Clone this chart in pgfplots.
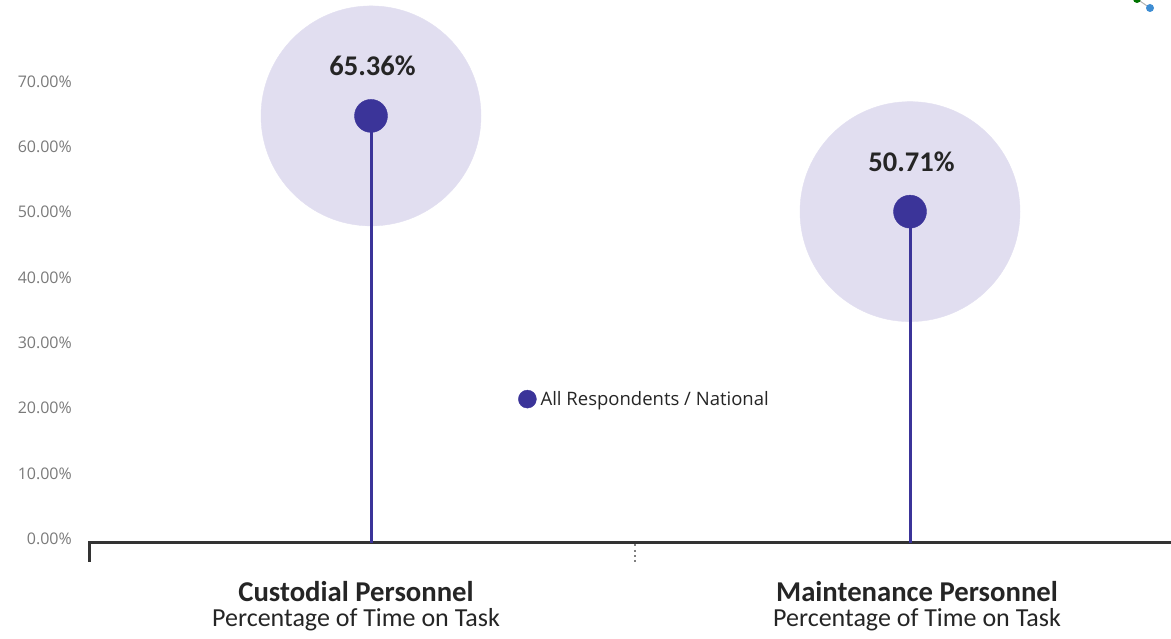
\documentclass[border=0pt]{standalone}
\usepackage{pgfplots}
\pgfplotsset{compat=1.18}
\usepackage{fontspec}
\setmainfont{Carlito}
\newfontfamily\uifont{Open Sans}

\definecolor{dotblue}{HTML}{3B3499}
\definecolor{halo}{HTML}{E1DEF0}
\definecolor{axisgray}{HTML}{333333}
\definecolor{ticktext}{HTML}{7A7A7A}
\definecolor{labeltext}{HTML}{252525}

\begin{document}
\begin{tikzpicture}[x=1bp,y=1bp]
\path[use as bounding box] (0,0) rectangle (1171,639);
\begin{axis}[
  at={(89bp,96bp)}, anchor=south west,
  scale only axis, width=1082bp, height=543bp,
  xmin=-0.5232, xmax=1.4842,
  ymin=0, ymax=83.1,
  clip=false, clip mode=individual,
  axis x line*=bottom, axis y line*=left,
  y axis line style={draw=none},
  x axis line style={line width=3bp, axisgray, -},
  major tick length=0pt,
  ytick={0,10,...,70},
  yticklabel={\pgfmathprintnumber[fixed,fixed zerofill,precision=2]{\tick}\%},
  /pgf/number format/assume math mode=true,
  y tick label style={anchor=east, inner sep=0pt, xshift=-17bp, yshift=4bp,
    font=\uifont\fontsize{16bp}{18bp}\selectfont, text=ticktext},
  xtick={-0.0278,1.0130},
  xticklabels={{\fontsize{28.7bp}{25bp}\selectfont\textbf{Custodial Personnel}\\Percentage of Time on Task},
               {\fontsize{28.7bp}{25bp}\selectfont\textbf{Maintenance Personnel}\\Percentage of Time on Task}},
  x tick label style={align=center, anchor=north, inner sep=0pt, yshift=-38.5bp,
    font=\fontsize{26bp}{25bp}\selectfont, text=labeltext},
  legend style={at={(rel axis cs:0.3965,0.265)}, anchor=west, draw=none, fill=none,
    inner sep=0pt, font=\uifont\fontsize{18.5bp}{20bp}\selectfont, text=labeltext},
  legend image code/.code={\fill[dotblue] (9bp,0bp) circle (9bp);},
]
% soft halo behind each value
\addplot[only marks, mark=*, mark size=110bp, color=halo, forget plot]
  coordinates {(0,65.36) (1,50.71)};
% stems from the baseline
\addplot[dotblue, line width=3bp, mark=none, forget plot]
  coordinates {(0,0) (0,65.36)};
\addplot[dotblue, line width=3bp, mark=none, forget plot]
  coordinates {(1,0) (1,50.71)};
% value markers with their labels
\addplot[only marks, mark=*, mark size=16.5bp, color=dotblue,
  nodes near coords={\pgfmathprintnumber[fixed,fixed zerofill,precision=2]{\pgfplotspointmeta}\%},
  nodes near coords style={anchor=center, yshift=50bp, xshift=1.5bp, text=labeltext,
    font=\bfseries\fontsize{28.5bp}{30bp}\selectfont}]
  coordinates {(0,65.36) (1,50.71)};
\addlegendentry{\hspace*{2bp}All Respondents / National}
\end{axis}
% axis corner tick and category divider
\draw[axisgray, line width=3bp] (89,97.5) -- (89,77);
\draw[gray, line width=1.8bp, dash pattern=on 1.8bp off 3.5bp] (635,94.5) -- (635,76);
% share icon in the corner
\draw[gray!60, line width=1bp] (1137,640) -- (1150,631);
\fill[green!45!black] (1137,640) circle (4);
\fill[cyan!60!blue!80] (1150,631) circle (4);
\end{tikzpicture}
\end{document}
